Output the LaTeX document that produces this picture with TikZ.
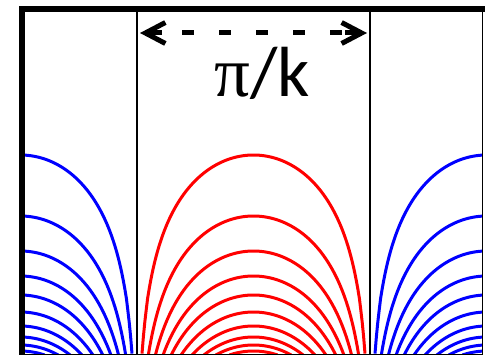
\documentclass[tikz,border=0pt]{standalone}
\usepackage{fontspec}
\setmainfont{Carlito}
\newfontfamily\pifont{Liberation Serif}
\usetikzlibrary{arrows.meta}
\begin{document}
\begin{tikzpicture}[x=1pt,y=-1pt,
  curve/.style={line width=3pt,line join=round,samples=160},
  cellline/.style={black,line width=2pt},
  frame/.style={black,line width=6pt},
  headseg/.style={line width=5pt,-{Straight Barb[length=20pt,width=21pt]}},
  dashseg/.style={line width=5pt,dash pattern=on 12pt off 25pt,dash phase=17pt}]
\useasboundingbox (0,0) rectangle (485,355);
\begin{scope}
  \clip (22,9) rectangle (482,355);
  \foreach \h in {200,139,104,79,60,43,29,18,10,4}{
    \pgfmathsetmacro{\tz}{asin(exp(-pi*\h/233))}
    \foreach \a/\col in {-96/blue,137/red,370/blue}{
      \draw[curve,\col,domain=\tz:180-\tz,variable=\t]
        plot ({\a+1.294444*\t},{355-\h-74.166*ln(sin(\t))});
    }
  }
\end{scope}
\coordinate (c1t) at (137,9);
\coordinate (c1b) at (137,355);
\coordinate (c2t) at (370,9);
\coordinate (c2b) at (370,355);
\draw[cellline] (c1t) -- (c1b);
\draw[cellline] (c2t) -- (c2b);
\coordinate (fbl) at (22,355);
\coordinate (ftl) at (22,9);
\coordinate (ftr) at (485,9);
\coordinate (rt) at (482.5,9);
\coordinate (rb) at (482.5,355);
\coordinate (bl) at (22,354.5);
\coordinate (br) at (482.5,354.5);
\draw[black,line width=1.5pt] (rt) -- (rb);
\draw[black,line width=1.2pt] (bl) -- (br);
\draw[frame] (fbl) -- (ftl) -- (ftr);
\coordinate (L) at (140,33);
\coordinate (Lb) at (162,33);
\coordinate (R) at (367,33);
\coordinate (Rb) at (345,33);
\draw[headseg] (Lb) -- (L);
\draw[headseg] (Rb) -- (R);
\draw[dashseg] (Lb) -- (Rb);
\node[font=\fontsize{71}{71}\selectfont,anchor=base,inner sep=0pt] (lab) at (262.5,97) {{\pifont π}/k};
\end{tikzpicture}
\end{document}
